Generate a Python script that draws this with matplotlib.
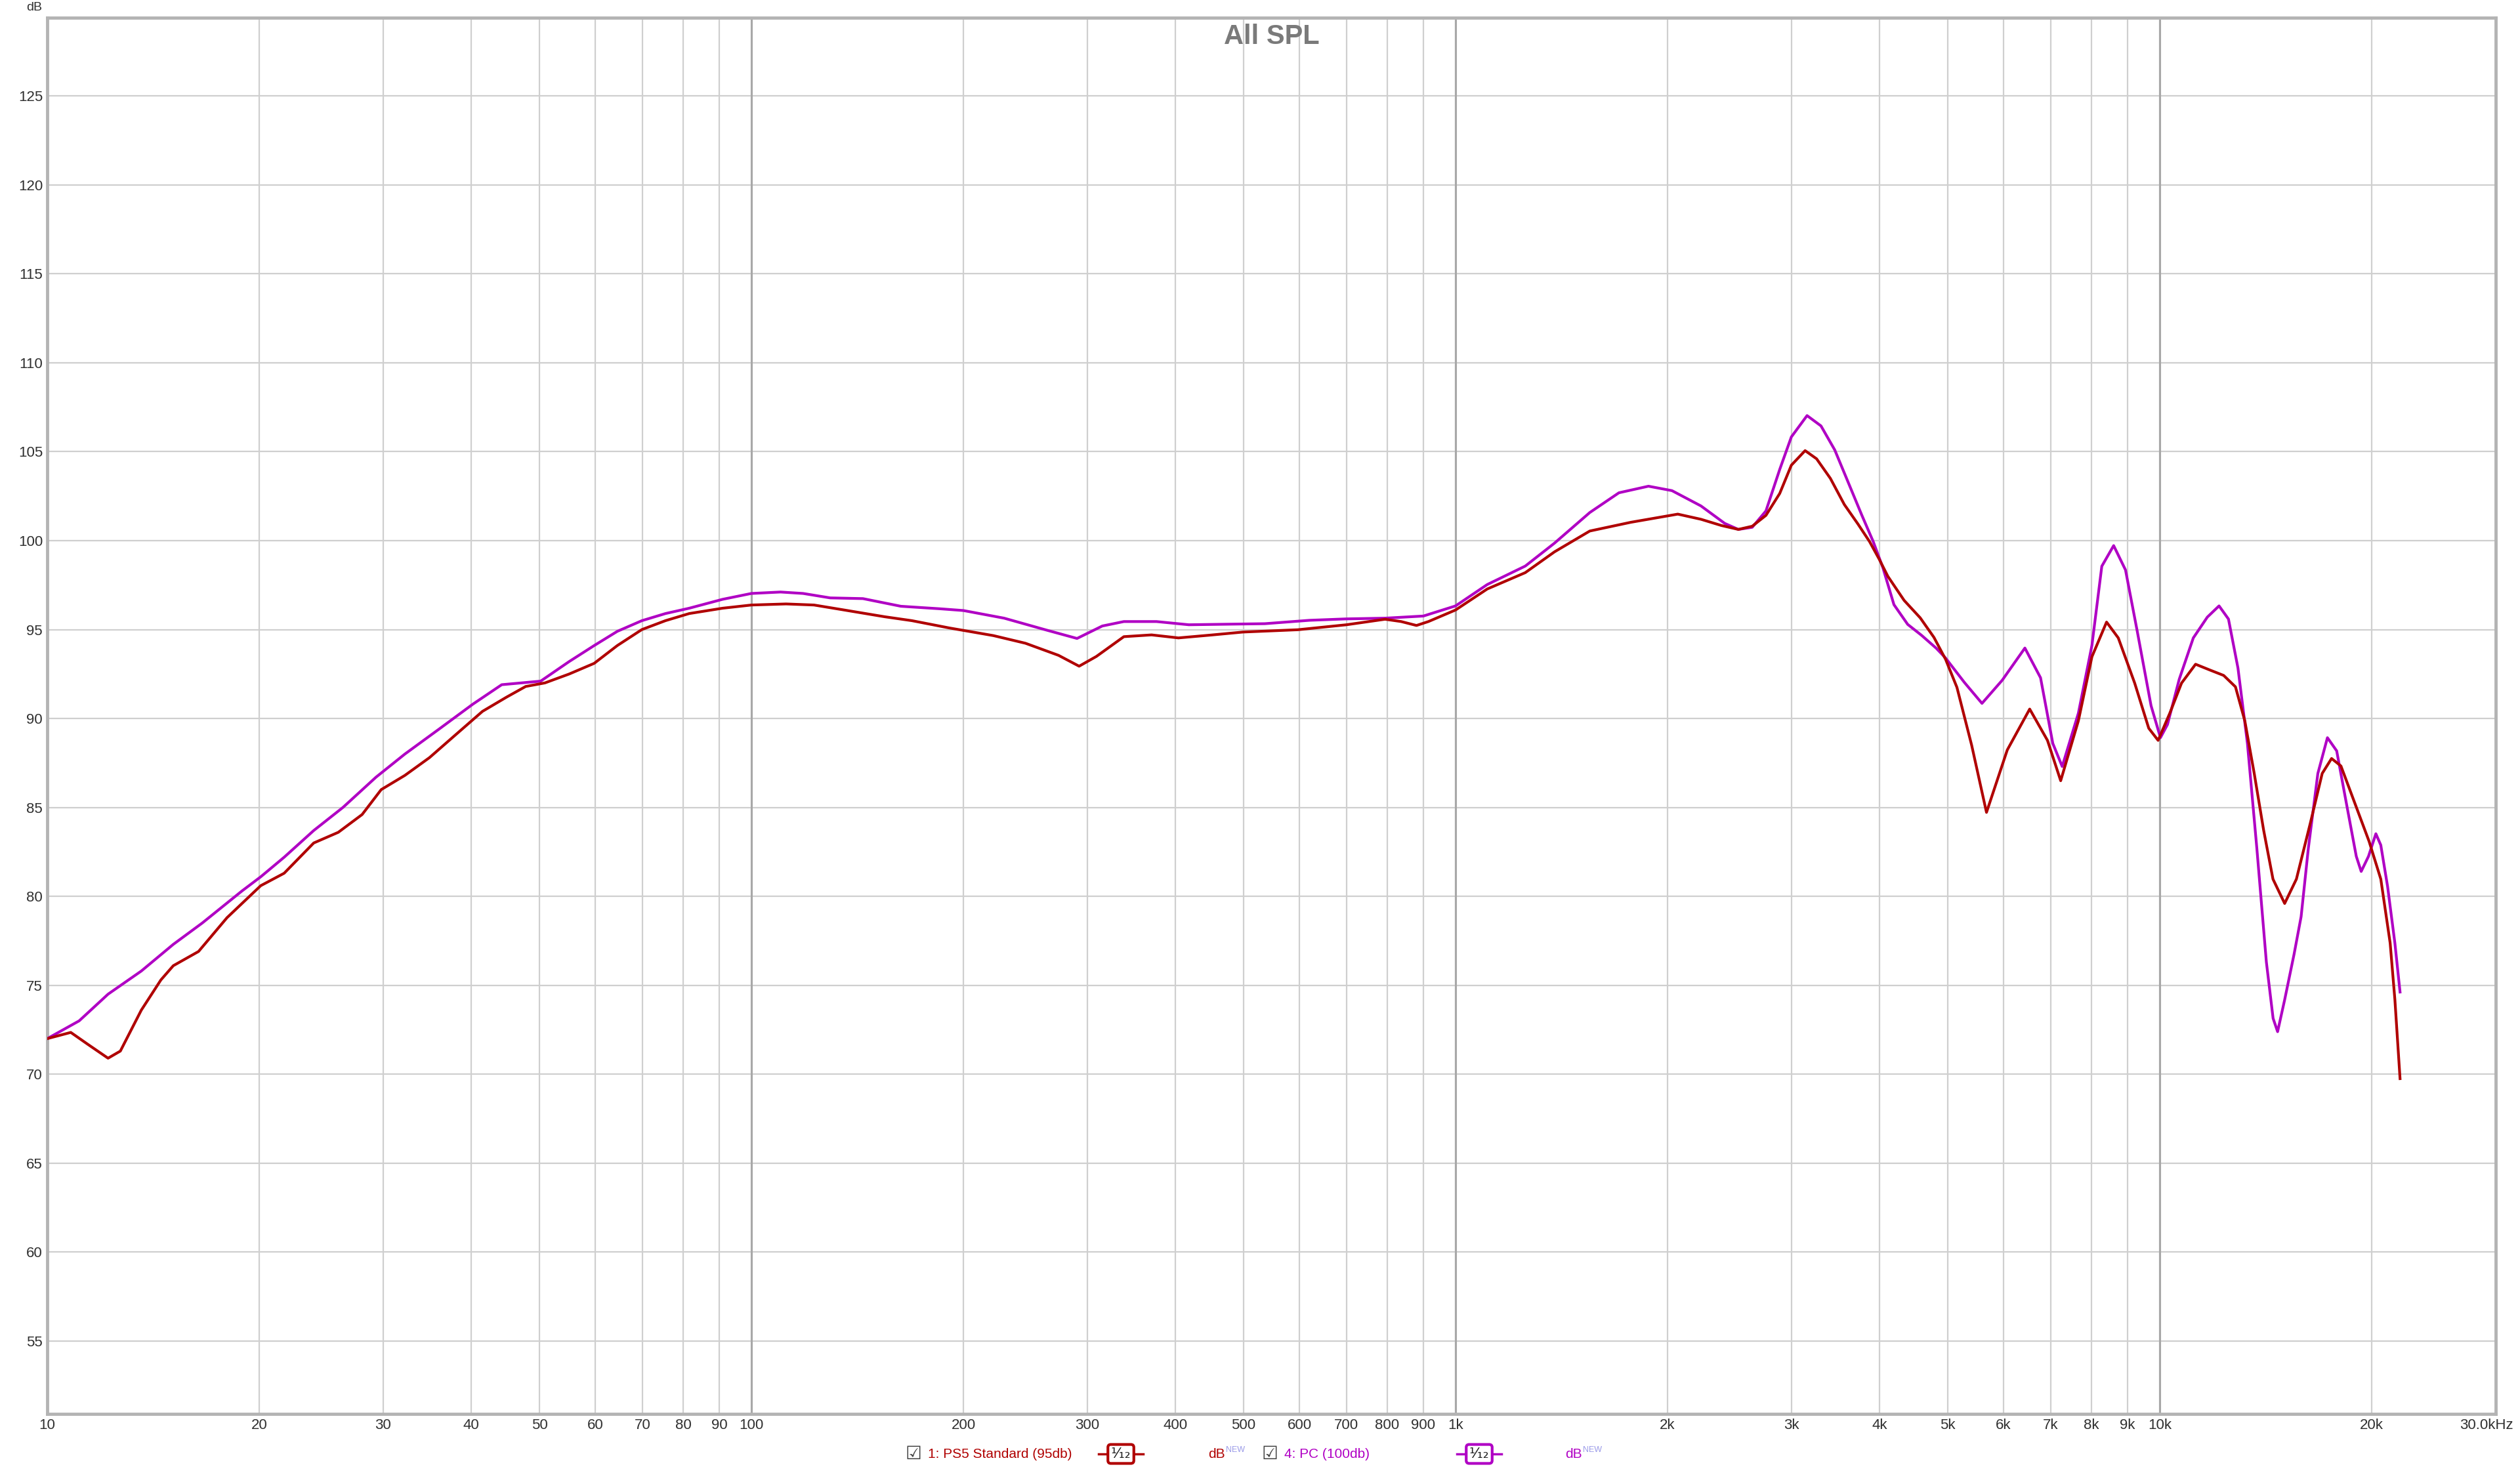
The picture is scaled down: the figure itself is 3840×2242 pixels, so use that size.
import matplotlib.pyplot as plt
from matplotlib.lines import Line2D
from matplotlib.transforms import ScaledTranslation

# frequency response data
ps5_freq = [10, 10.8, 11.4, 12.2, 12.7, 13.6, 14.5, 15.1, 16.4, 18.0, 20.1, 21.7, 23.9, 25.9, 28.0,
            29.8, 32.2, 34.9, 37.8, 41.5, 44.9, 47.8, 50.9, 55.1, 59.8, 64.5, 69.9, 75.5, 81.6, 91.0,
            100, 112, 122.7, 134, 154.6, 169, 191, 220.6, 245, 273, 292, 309, 338, 370, 404,
            449, 499, 597, 700, 794, 837, 880, 915, 1000, 1109, 1256, 1382, 1551, 1773, 2068,
            2231, 2385, 2521, 2638, 2759, 2886, 2998, 3136, 3256, 3406, 3565, 3728, 3871, 3994, 4111,
            4335, 4569, 4779, 4964, 5152, 5406, 5675, 6074, 6536, 6927, 7233, 7664, 8011, 8404, 8732,
            9213, 9647, 9947, 10335, 10739, 11243, 11773, 12325, 12809, 13207, 13620, 14044, 14481, 15045, 15634,
            16370, 17010, 17539, 18085, 18937, 19829, 20603, 21243, 21574, 21941]
ps5_db = [72.0, 72.35, 71.7, 70.9, 71.3, 73.6, 75.3, 76.1, 76.9, 78.8, 80.6, 81.3, 83.0, 83.6, 84.6,
          86.0, 86.8, 87.8, 89.0, 90.4, 91.2, 91.8, 92.0, 92.5, 93.1, 94.1, 95.0, 95.5, 95.9, 96.2,
          96.38, 96.44, 96.38, 96.13, 95.72, 95.5, 95.09, 94.66, 94.23, 93.55, 92.94, 93.49, 94.6, 94.7, 94.53,
          94.69, 94.86, 94.99, 95.27, 95.58, 95.45, 95.23, 95.45, 96.1, 97.28, 98.2, 99.37, 100.54, 101.03, 101.49,
          101.2, 100.85, 100.63, 100.81, 101.42, 102.65, 104.24, 105.06, 104.6, 103.5, 102.03, 100.93, 99.95, 98.97, 97.99,
          96.64, 95.66, 94.56, 93.33, 91.75, 88.5, 84.72, 88.23, 90.53, 88.77, 86.5, 89.87, 93.47, 95.42, 94.53,
          91.99, 89.45, 88.77, 90.3, 91.99, 93.05, 92.73, 92.42, 91.78, 89.87, 86.91, 83.73, 80.97, 79.6, 80.97,
          84.15, 86.91, 87.75, 87.33, 85.21, 83.09, 80.97, 77.37, 74.19, 69.75]

pc_freq = [10, 11.1, 12.2, 13.6, 15.1, 16.6, 18.9, 20.1, 21.7, 23.9, 26.3, 29.3, 32.2, 36.0, 40.2,
           44.2, 47.1, 50.2, 55.1, 59.8, 64.5, 69.9, 75.5, 81.6, 91.0, 100, 110, 118.4, 129.4, 144,
           163, 185, 200, 228.5, 263, 290, 315, 338, 376, 418, 473, 536, 620, 700, 794,
           900, 1000, 1109, 1256, 1382, 1551, 1706, 1879, 2029, 2231, 2411, 2521, 2638, 2759, 2886,
           2998, 3156, 3303, 3455, 3612, 3776, 3918, 4044, 4193, 4386, 4588, 4815, 4964, 5281, 5592,
           5974, 6434, 6772, 7049, 7269, 7664, 8011, 8274, 8601, 8941, 9285, 9720, 10023, 10256, 10657,
           11160, 11684, 12140, 12520, 12914, 13320, 13739, 14171, 14487, 14702, 15046, 15514, 15877, 16253, 16770,
           17303, 17835, 18414, 19016, 19323, 19790, 20273, 20603, 21066, 21574, 21941]
pc_db = [72.0, 73.0, 74.5, 75.8, 77.3, 78.5, 80.3, 81.1, 82.2, 83.7, 85.0, 86.7, 88.0, 89.4, 90.8,
         91.9, 92.0, 92.1, 93.2, 94.1, 94.9, 95.5, 95.9, 96.2, 96.7, 97.03, 97.11, 97.03, 96.78, 96.74,
         96.31, 96.17, 96.07, 95.64, 94.96, 94.5, 95.2, 95.45, 95.45, 95.27, 95.3, 95.33, 95.52, 95.6, 95.64,
         95.76, 96.33, 97.53, 98.57, 99.86, 101.58, 102.69, 103.06, 102.81, 101.95, 100.97, 100.63, 100.75, 101.67, 104.0,
         105.83, 107.03, 106.45, 105.1, 103.26, 101.42, 99.95, 98.48, 96.4, 95.29, 94.68, 93.95, 93.4, 92.02, 90.85,
         92.15, 93.96, 92.29, 88.6, 87.3, 90.3, 94.11, 98.56, 99.72, 98.35, 94.96, 90.72, 88.92, 89.66, 92.2,
         94.53, 95.7, 96.33, 95.59, 92.84, 88.6, 82.67, 76.31, 73.14, 72.39, 74.19, 76.74, 78.86, 82.67, 86.91,
         88.92, 88.18, 85.21, 82.25, 81.4, 82.25, 83.52, 82.88, 80.55, 77.37, 74.62]

x_ticks = [10, 20, 30, 40, 50, 60, 70, 80, 90, 100, 200, 300, 400, 500, 600, 700, 800, 900,
           1000, 2000, 3000, 4000, 5000, 6000, 7000, 8000, 9000, 10000, 20000, 30000]
x_labels = ['10', '20', '30', '40', '50', '60', '70', '80', '90', '100', '200', '300', '400', '500',
            '600', '700', '800', '900', '1k', '2k', '3k', '4k', '5k', '6k', '7k', '8k', '9k', '10k',
            '20k', '30.0kHz']
y_ticks = list(range(55, 130, 5))

RED = '#b00000'
PURPLE = '#b000c4'
SANS = ['Liberation Sans', 'DejaVu Sans']

W, H = 3840, 2242
fig = plt.figure(figsize=(W / 100, H / 100), dpi=100)
ax = fig.add_axes([72 / W, 1 - 2155 / H, (3803 - 72) / W, (2155 - 27) / H])

# ---- grid / axes ----
ax.set_xscale('log')
ax.set_xlim(10, 30000)
ax.set_ylim(50.9, 129.4)
ax.set_xticks(x_ticks)
ax.set_xticklabels(x_labels, family=SANS, fontsize=16, color='#303030')
ax.set_xticks([], minor=True)
ax.set_yticks(y_ticks)
ax.set_yticklabels([str(v) for v in y_ticks], family=SANS, fontsize=16, color='#303030')
ax.tick_params(length=0, pad=5)
ax.grid(True, color='#cfcfcf', linewidth=1.6)
for f in [100, 1000, 10000]:
    ax.axvline(f, color='#a8a8a8', linewidth=2.2, zorder=1)
ax.set_axisbelow(True)

# last label (30.0kHz) sits left-aligned against the right edge
last = ax.get_xticklabels()[-1]
last.set_ha('right')
last.set_transform(last.get_transform() + ScaledTranslation(0.27, 0, fig.dpi_scale_trans))

for s in ax.spines.values():
    s.set_color('#b4b4b4')
    s.set_linewidth(3.5)

# ---- curves ----
ax.plot(pc_freq, pc_db, color=PURPLE, linewidth=3, zorder=3, solid_joinstyle='round')
ax.plot(ps5_freq, ps5_db, color=RED, linewidth=3, zorder=4, solid_joinstyle='round')

# ---- title / unit ----
ax.text(0.5, 1 - 29 / 2128, 'All SPL', transform=ax.transAxes, ha='center', va='center',
        fontsize=30, fontweight='bold', color='#7a7a7a', family=SANS)
fig.text(52 / W, 1 - 12 / H, 'dB', ha='center', va='center', fontsize=14,
         color='#303030', family=SANS)

# ---- legend row at the bottom ----
ly = 1 - 2216 / H


def legend_item(x0, label, color, box_x, db_x):
    fig.text(x0 / W, ly, '\u2611', ha='center', va='center', fontsize=20, color='#404040',
             family='DejaVu Sans')
    fig.text((x0 + 22) / W, ly, label, ha='left', va='center', fontsize=15, color=color,
             family=SANS)
    fig.add_artist(Line2D([(box_x - 34) / W, (box_x + 34) / W], [ly, ly], color=color,
                          linewidth=2.5, transform=fig.transFigure))
    fig.text(box_x / W, ly, '\u00b9\u2044\u2081\u2082', ha='center', va='center', fontsize=16,
             color='#202020', family='DejaVu Sans',
             bbox=dict(boxstyle='round,pad=0.2', facecolor='white', edgecolor=color, linewidth=3))
    fig.text(db_x / W, ly, 'dB', ha='left', va='center', fontsize=15, color=color, family=SANS)
    fig.text((db_x + 27) / W, ly + 6 / H, 'NEW', ha='left', va='center', fontsize=9,
             color='#9a9ae8', family=SANS)


legend_item(1392, '1: PS5 Standard (95db)', RED, 1708, 1841)
legend_item(1935, '4: PC (100db)', PURPLE, 2254, 2385)

fig.savefig('out.png', dpi=100, facecolor='white')
